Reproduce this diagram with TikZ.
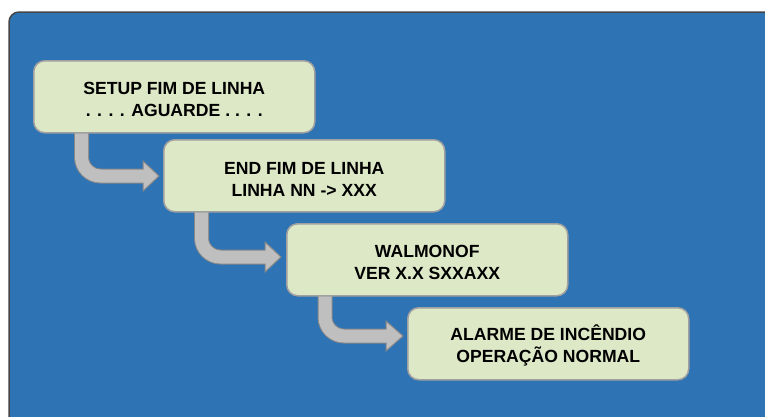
\documentclass[tikz,border=0pt]{standalone}
\usepackage{fontspec}
\setmainfont{Liberation Sans}
\definecolor{panelblue}{RGB}{46,116,181}
\definecolor{panelborder}{RGB}{70,70,70}
\definecolor{boxfill}{RGB}{221,232,199}
\definecolor{boxborder}{RGB}{160,160,160}
\definecolor{arrowfill}{RGB}{191,191,191}
\definecolor{arrowborder}{RGB}{135,135,135}
\newcommand{\topstrut}{\rule{0pt}{18.5pt}}
\tikzset{
  stepbox/.style={draw=boxborder, fill=boxfill, line width=1.5pt, rounded corners=11pt,
    minimum width=281pt, minimum height=72pt, anchor=north west, align=center,
    font=\fontsize{17.6}{22}\selectfont\bfseries, inner sep=0pt, text=black},
  shaftout/.style={draw=arrowborder, line width=15pt, rounded corners=19pt},
  shaftin/.style={draw=arrowfill, line width=13pt, rounded corners=19pt},
  headtri/.style={fill=arrowfill, draw=arrowborder, line width=1pt, line join=miter}
}
\begin{document}
\begin{tikzpicture}[x=1pt,y=-1pt]
\useasboundingbox (0,0) rectangle (765,416);
\filldraw[fill=panelblue, draw=panelborder, line width=1.5pt, rounded corners=10pt]
  (9,440) -- (9,12) -- (780,12) -- (780,440) -- cycle;
% arrow coordinates
\coordinate (s1) at (81.5,130);  \coordinate (e1) at (144.5,176);
\coordinate (s2) at (201.5,210); \coordinate (e2) at (266.5,257);
\coordinate (s3) at (325,291);   \coordinate (e3) at (387.5,336);
% arrows
\foreach \s/\e/\b/\t/\y in {s1/e1/143/159/176, s2/e2/265/281/257, s3/e3/386/403/336}{
  \draw[shaftout] (\s) |- (\e);
  \filldraw[headtri] (\b,\y-15) -- (\t,\y) -- (\b,\y+15) -- cycle;
  \draw[shaftin] (\s) |- (\e);
}
% boxes
\node[stepbox] (b1) at (33,60)  {\topstrut SETUP FIM DE LINHA\\. . . . AGUARDE . . . .};
\node[stepbox] (b2) at (163,139) {\topstrut END FIM DE LINHA\\LINHA NN -> XXX};
\node[stepbox] (b3) at (286,223) {\topstrut WALMONOF\\VER X.X SXXAXX};
\node[stepbox] (b4) at (407,307) {\topstrut ALARME DE INCÊNDIO\\OPERAÇÃO NORMAL};
\end{tikzpicture}
\end{document}
